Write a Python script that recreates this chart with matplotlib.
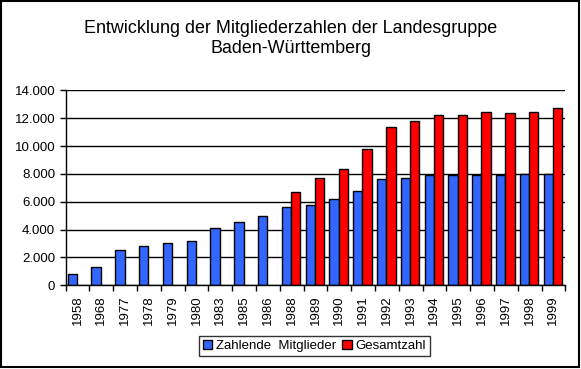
import numpy as np
import matplotlib.pyplot as plt
from matplotlib.patches import Rectangle
from matplotlib.ticker import FuncFormatter, MultipleLocator

plt.rcParams['font.family'] = ['Liberation Sans', 'DejaVu Sans']

years = ['1958', '1968', '1977', '1978', '1979', '1980', '1983', '1985', '1986',
         '1988', '1989', '1990', '1991', '1992', '1993', '1994', '1995', '1996',
         '1997', '1998', '1999']
zahlende = [800, 1300, 2500, 2800, 3000, 3150, 4100, 4570, 5000,
            5600, 5800, 6170, 6750, 7610, 7680, 7900, 7900, 7900,
            7900, 7970, 7970]
# Gesamtzahl only recorded from 1988 on
gesamt = [np.nan] * 9 + [6680, 7680, 8330, 9760, 11340, 11770, 12200, 12200,
                         12420, 12350, 12420, 12710]

blue = '#3366ff'
red = '#ff0000'

fig = plt.figure(figsize=(5.81, 3.69), dpi=100)
ax = fig.add_axes([0.113, 0.227, 0.860, 0.528])

x = np.arange(len(years))
w = 0.39
ax.bar(x - 0.22, zahlende, w, color=blue, edgecolor='black', linewidth=1,
       label='Zahlende  Mitglieder', zorder=3)
ax.bar(x + 0.17, gesamt, w, color=red, edgecolor='black', linewidth=1,
       label='Gesamtzahl', zorder=3)

ax.set_xlim(-0.5, len(years) - 0.5)
ax.set_ylim(0, 14000)
ax.yaxis.set_major_locator(MultipleLocator(2000))
ax.yaxis.set_major_formatter(FuncFormatter(lambda v, p: f'{int(v):,}'.replace(',', '.')))
ax.grid(axis='y', color='black', linewidth=1, zorder=0)

ax.set_xticks(x)
ax.set_xticklabels(years, rotation=90, fontsize=9.5)
ax.set_xticks(np.arange(-0.5, len(years)), minor=True)
ax.tick_params(axis='x', which='major', length=0, pad=7)
ax.tick_params(axis='x', which='minor', length=4, width=1, direction='out')
ax.tick_params(axis='y', length=4, width=1, labelsize=9.5)

for s in ['top', 'right']:
    ax.spines[s].set_visible(False)
for s in ['left', 'bottom']:
    ax.spines[s].set_linewidth(1)
    ax.spines[s].set_zorder(4)

fig.text(0.5, 0.922, 'Entwicklung der Mitgliederzahlen der Landesgruppe',
         ha='center', va='center', fontsize=12.9)
fig.text(0.5, 0.868, 'Baden-Württemberg', ha='center', va='center', fontsize=12.9)

leg = fig.legend(loc='center', bbox_to_anchor=(0.541, 0.062), ncol=2, fontsize=9.5,
                 frameon=True, fancybox=False, edgecolor='black', handlelength=0.7,
                 handleheight=0.7, handletextpad=0.3, columnspacing=0.5,
                 borderpad=0.3, borderaxespad=0)
leg.get_frame().set_linewidth(1)

fig.patches.append(Rectangle((0.001, 0.006), 0.995, 0.992, transform=fig.transFigure,
                             fill=False, edgecolor='black', linewidth=1.5))

fig.savefig('out.png', dpi=100)
